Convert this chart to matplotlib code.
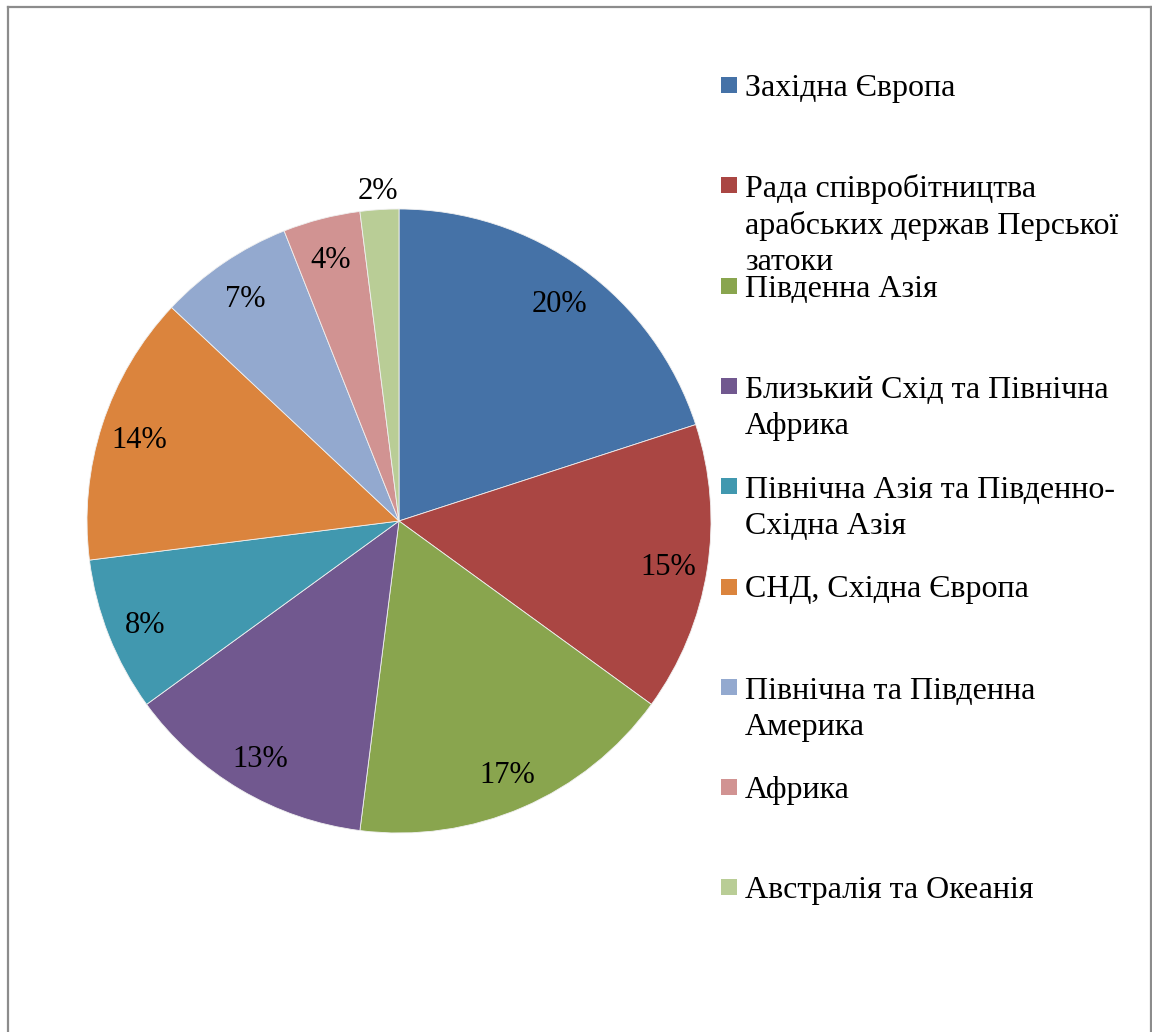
import matplotlib
matplotlib.use("Agg")
import matplotlib.pyplot as plt
from matplotlib.patches import Rectangle
from matplotlib.lines import Line2D
from matplotlib.transforms import ScaledTranslation
import numpy as np

labels = [
    "Західна Європа",
    "Рада співробітництва\nарабських держав Перської\nзатоки",
    "Південна Азія",
    "Близький Схід та Північна\nАфрика",
    "Північна Азія та Південно-\nСхідна Азія",
    "СНД, Східна Європа",
    "Північна та Південна\nАмерика",
    "Африка",
    "Австралія та Океанія",
]
values = [20, 15, 17, 13, 8, 14, 7, 4, 2]
colors = ["#4572A7", "#AA4643", "#89A54E", "#71588F", "#4198AF",
          "#DB843D", "#93A9CF", "#D19392", "#B9CD96"]

plt.rcParams['font.family'] = ['Liberation Serif', 'DejaVu Serif']

W, H = 1152, 1032
fig = plt.figure(figsize=(W / 100, H / 100), dpi=100)

# frame (open at bottom)
fc = "#8c8c8c"
fig.add_artist(Line2D([8 / W, 8 / W], [0, 1 - 7 / H], transform=fig.transFigure, color=fc, lw=1.6))
fig.add_artist(Line2D([8 / W, 1150.5 / W], [1 - 7 / H, 1 - 7 / H], transform=fig.transFigure, color=fc, lw=1.6))
fig.add_artist(Line2D([1150.5 / W, 1150.5 / W], [0, 1 - 7 / H], transform=fig.transFigure, color=fc, lw=1.6))

cx, cy, R = 399, 521, 312
ax = fig.add_axes([(cx - R) / W, (H - cy - R) / H, 2 * R / W, 2 * R / H])
wedges, texts, autotexts = ax.pie(
    values, colors=colors, startangle=90, counterclock=False, radius=1,
    autopct=lambda p: f"{p:.0f}%", pctdistance=0.875,
    wedgeprops=dict(edgecolor="#f0f0f0", linewidth=0.6),
    textprops=dict(fontsize=22, color="black"),
)
# last small slice label sits outside the pie
w = wedges[-1]
ang = np.deg2rad((w.theta1 + w.theta2) / 2)
autotexts[-1].set_position((1.07 * np.cos(ang), 1.07 * np.sin(ang)))
shift = ScaledTranslation(0, -4 / 100, fig.dpi_scale_trans)
for t in autotexts:
    t.set_transform(ax.transData + shift)
ax.set_xlim(-1, 1)
ax.set_ylim(-1, 1)
ax.set_aspect('equal')
ax.axis('off')

# legend
sq = 16
line_px = 36.8
for i, (lab, col) in enumerate(zip(labels, colors)):
    yc = 85 + i * 100.3
    fig.add_artist(Rectangle((721 / W, 1 - (yc + sq / 2) / H), sq / W, sq / H,
                             transform=fig.transFigure, facecolor=col, edgecolor='none'))
    nlines = lab.count("\n") + 1
    base = yc + 11 + (nlines - 1) * line_px
    fig.text(745 / W, 1 - base / H, lab, fontsize=23, va='baseline', ha='left',
             linespacing=1.30)

fig.savefig("out.png", dpi=100)
